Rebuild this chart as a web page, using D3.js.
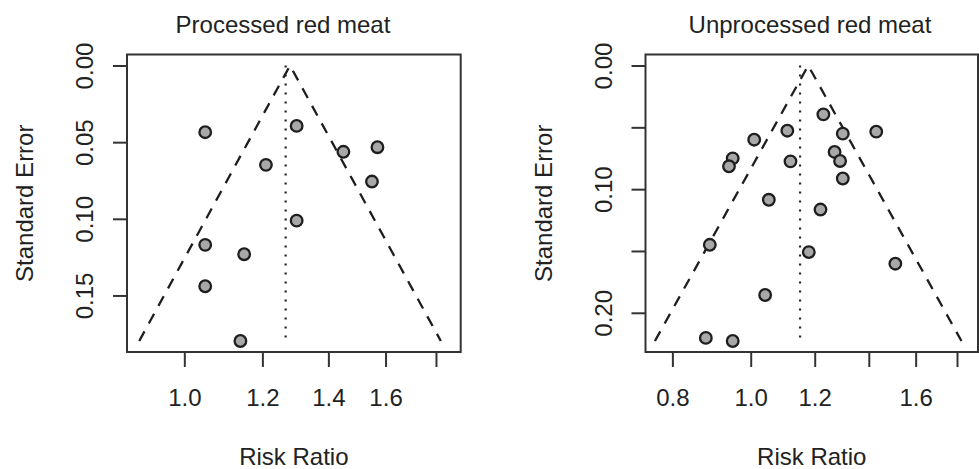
<!DOCTYPE html>
<html>
<head>
<meta charset="utf-8">
<script src="https://cdn.jsdelivr.net/npm/d3@7"></script>
<style>
  body { margin: 0; background: #fff; }
  text { font-family: "Liberation Sans", Arial, sans-serif; fill: #222; }
</style>
</head>
<body>
<script>
const WIDTH = 979;
const HEIGHT = 469;

// panel titles
const titles = ["Processed red meat", "Unprocessed red meat"];

// processed red meat: risk ratio and standard error of each study
const processedRR = [1.05, 1.30, 1.45, 1.57, 1.21, 1.55, 1.30, 1.05, 1.15, 1.05, 1.14];
const processedSE = [0.0435, 0.0394, 0.0563, 0.0533, 0.0648, 0.0757, 0.1012, 0.117, 0.1231, 0.144, 0.1797];

// unprocessed red meat
const unprocessedRR = [1.23, 1.11, 1.30, 1.43, 1.01, 0.95, 0.94, 1.12, 1.27, 1.29, 1.30,
    1.053, 1.22, 0.89, 1.18, 1.51, 1.042, 0.88, 0.95];
const unprocessedSE = [0.0395, 0.0527, 0.0551, 0.0535, 0.060, 0.0751, 0.0815, 0.0775, 0.0699, 0.0772, 0.0914,
    0.1086, 0.1165, 0.145, 0.1509, 0.1603, 0.1856, 0.2203, 0.2228];

// pooled estimates: funnel centre (fixed) and dotted line (random)
const fixedRR = [1.28, 1.178];
const randomRR = [1.267, 1.151];

// x limits of each panel (log scale)
const xLimits = [[0.8747, 1.907], [0.741, 1.911]];

// tick values and labels
const xTicks = [[1.0, 1.2, 1.4, 1.6, 1.8], [0.8, 1.0, 1.2, 1.4, 1.6, 1.8]];
const xTickLabels = [["1.0", "1.2", "1.4", "1.6", ""], ["0.8", "1.0", "1.2", "", "1.6", ""]];
const yTicks = [[0, 0.05, 0.10, 0.15], [0, 0.05, 0.10, 0.15, 0.20]];
const yTickLabels = [["0.00", "0.05", "0.10", "0.15"], ["0.00", "", "0.10", "", "0.20"]];

const rrs = [processedRR, unprocessedRR];
const ses = [processedSE, unprocessedSE];

// box of each plot region
const boxes = [
    { left: 127, right: 460.7, titleX: 283 },
    { left: 645.5, right: 978, titleX: 810 }
];
const TOP = 54.5;
const BOTTOM = 352;

const svg = d3.select("body").append("svg")
    .attr("width", WIDTH)
    .attr("height", HEIGHT);

svg.append("rect")
    .attr("width", WIDTH)
    .attr("height", HEIGHT)
    .attr("fill", "#fff");

for (let p = 0; p < 2; p++) {
    const box = boxes[p];
    const rr = rrs[p];
    const se = ses[p];
    const seMax = d3.max(se);

    const x = d3.scaleLog().domain(xLimits[p]).range([box.left, box.right]);
    // R style 4% padding, se axis reversed (0 at top)
    const y = d3.scaleLinear().domain([-seMax * 0.04, seMax * 1.04]).range([TOP, BOTTOM]);

    const g = svg.append("g");

    // funnel
    const z = 1.96;
    const funnel = [
        [fixedRR[p] * Math.exp(-z * seMax), seMax],
        [fixedRR[p], 0],
        [fixedRR[p] * Math.exp(z * seMax), seMax]
    ];
    g.append("path")
        .attr("d", d3.line().x(d => x(d[0])).y(d => y(d[1]))(funnel))
        .attr("fill", "none")
        .attr("stroke", "#1e1e1e")
        .attr("stroke-width", 2.3)
        .attr("stroke-dasharray", "11,9");

    // random effect line
    g.append("line")
        .attr("x1", x(randomRR[p])).attr("x2", x(randomRR[p]))
        .attr("y1", y(0)).attr("y2", y(seMax))
        .attr("stroke", "#222")
        .attr("stroke-width", 2.2)
        .attr("stroke-dasharray", "2,7");

    // studies
    g.selectAll("circle")
        .data(rr.map((d, i) => [d, se[i]]))
        .enter().append("circle")
        .attr("cx", d => x(d[0]))
        .attr("cy", d => y(d[1]))
        .attr("r", 5.8)
        .attr("fill", "#a8a8a8")
        .attr("stroke", "#1e1e1e")
        .attr("stroke-width", 2.3);

    // box
    g.append("rect")
        .attr("x", box.left).attr("y", TOP)
        .attr("width", box.right - box.left).attr("height", BOTTOM - TOP)
        .attr("fill", "none")
        .attr("stroke", "#333")
        .attr("stroke-width", 2);

    // x axis
    const xa = g.append("g")
        .attr("transform", "translate(0," + BOTTOM + ")")
        .call(d3.axisBottom(x)
            .tickValues(xTicks[p])
            .tickFormat((d, i) => xTickLabels[p][i])
            .tickSize(15)
            .tickPadding(0));
    xa.select(".domain").remove();
    xa.selectAll("line").attr("stroke", "#333").attr("stroke-width", 2);
    xa.selectAll("text")
        .attr("y", 54)
        .attr("dy", 0)
        .attr("font-size", 24)
        .attr("font-family", null)
        .attr("fill", "#222");

    // y axis
    const ya = g.append("g")
        .attr("transform", "translate(" + box.left + ",0)")
        .call(d3.axisLeft(y)
            .tickValues(yTicks[p])
            .tickFormat((d, i) => yTickLabels[p][i])
            .tickSize(14));
    ya.select(".domain").remove();
    ya.selectAll("line").attr("stroke", "#333").attr("stroke-width", 2);
    ya.selectAll("text")
        .attr("transform", "rotate(-90)")
        .attr("x", 0)
        .attr("y", -33.7)
        .attr("dy", 0)
        .attr("text-anchor", "middle")
        .attr("font-size", 24)
        .attr("font-family", null)
        .attr("fill", "#222");

    // titles
    g.append("text")
        .attr("x", box.titleX)
        .attr("y", 33)
        .attr("text-anchor", "middle")
        .attr("font-size", 24)
        .text(titles[p]);

    g.append("text")
        .attr("x", (box.left + box.right) / 2)
        .attr("y", 465)
        .attr("text-anchor", "middle")
        .attr("font-size", 24)
        .text("Risk Ratio");

    g.append("text")
        .attr("transform", "translate(" + (box.left - 93.7) + "," + (TOP + BOTTOM) / 2 + ") rotate(-90)")
        .attr("text-anchor", "middle")
        .attr("font-size", 24)
        .text("Standard Error");
}
</script>
</body>
</html>
